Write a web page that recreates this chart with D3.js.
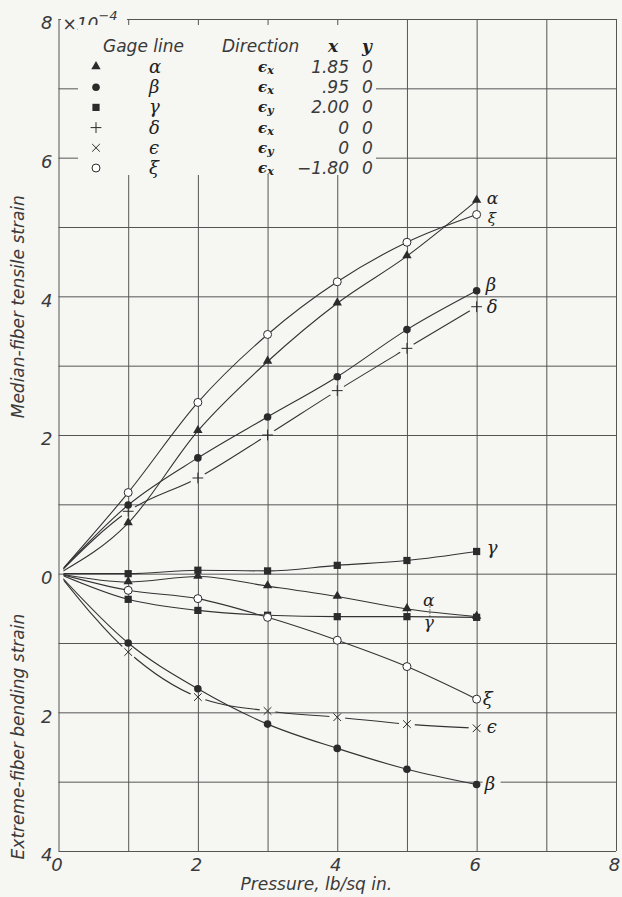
<!DOCTYPE html>
<html>
<head>
<script src="https://cdn.jsdelivr.net/npm/d3@7"></script>
<style>
  *{margin:0;padding:0;}
  body{background:#f6f6f3;}
  .lbl{font-family:"DejaVu Sans",sans-serif;font-style:italic;font-weight:200;fill:#3a3a3a;}
  .grk{font-family:"DejaVu Serif",serif;font-style:italic;fill:#222;}
  .grid line{stroke:#555;stroke-width:1;}
  .grid path{display:none;}
  .curve{fill:none;stroke:#333;stroke-width:1.1;}
</style>
</head>
<body>
<script>
// pressure, lb/sq in.
var pressure = [0, 1, 2, 3, 4, 5, 6];

// median-fiber tensile strain, x10^-4
var alphaT = [0, 0.73, 2.06, 3.06, 3.90, 4.58, 5.38];
var betaT  = [0, 0.99, 1.67, 2.26, 2.84, 3.52, 4.08];
var gammaT = [0, 0.00, 0.05, 0.04, 0.12, 0.19, 0.32];
var deltaT = [0, 0.90, 1.38, 2.00, 2.64, 3.25, 3.85];
var xiT    = [0, 1.17, 2.47, 3.45, 4.21, 4.78, 5.18];

// extreme-fiber bending strain, x10^-4 (plotted downward)
var alphaB = [0, -0.12, -0.04, -0.18, -0.33, -0.51, -0.62];
var betaB  = [0, -1.00, -1.66, -2.17, -2.52, -2.82, -3.04];
var gammaB = [0, -0.37, -0.53, -0.60, -0.62, -0.62, -0.63];
var epsB   = [0, -1.13, -1.78, -1.98, -2.07, -2.17, -2.23];
var xiB    = [0, -0.24, -0.36, -0.63, -0.96, -1.34, -1.81];

// legend table
var gageNames  = ["α", "β", "γ", "δ", "ϵ", "ξ"];
var gageMarks  = ["tri", "dot", "sq", "plus", "times", "ring"];
var directions = ["x", "x", "y", "x", "y", "x"];
var xValues    = ["1.85", ".95", "2.00", "0", "0", "\u22121.80"];
var yValues    = ["0", "0", "0", "0", "0", "0"];

var yTicks = [8, 6, 4, 2, 0, -2, -4];
var xTicks = [0, 2, 4, 6, 8];

var w = 622, h = 897;
var paper = "#f6f6f3";
var ink = "#2b2b2b";

var x = d3.scaleLinear().domain([0, 8]).range([58.5, 616]);
var y = d3.scaleLinear().domain([-4, 8]).range([851, 19]);

var svg = d3.select("body").append("svg")
  .attr("width", w)
  .attr("height", h);

// grid from axes
svg.append("g").attr("class", "grid")
  .attr("transform", "translate(0," + y(-4) + ")")
  .call(d3.axisBottom(x).tickValues(d3.range(0, 9)).tickSize(-(y(-4) - y(8))).tickFormat(""));
svg.append("g").attr("class", "grid")
  .attr("transform", "translate(" + x(0) + ",0)")
  .call(d3.axisLeft(y).tickValues(d3.range(-4, 9)).tickSize(-(x(8) - x(0))).tickFormat(""));

// tick labels
var xa = svg.append("g")
  .attr("transform", "translate(-2," + y(-4) + ")")
  .call(d3.axisBottom(x).tickValues(xTicks).tickSize(0).tickPadding(7));
xa.select(".domain").remove();
xa.selectAll("text").attr("class", "lbl").style("font-size", "18px").attr("fill", null);

var ya = svg.append("g")
  .attr("transform", "translate(" + (x(0) - 6) + ",4)")
  .call(d3.axisLeft(y).tickValues(yTicks).tickSize(0).tickPadding(0)
    .tickFormat(function(d) { return Math.abs(d); }));
ya.select(".domain").remove();
ya.selectAll("text").attr("class", "lbl").style("font-size", "18px").attr("fill", null);

// x10^-4 note over the top border
svg.append("rect").attr("x", x(0) + 2.5).attr("y", 4).attr("width", 66).attr("height", 19).attr("fill", paper);
var note = svg.append("text").attr("class", "lbl").attr("x", x(0) + 4).attr("y", 30).style("font-size", "17px");
note.append("tspan").text("×10");
note.append("tspan").attr("dy", -10).style("font-size", "13px").text("\u22124");

// axis titles
svg.append("text").attr("class", "lbl")
  .attr("transform", "translate(24," + y(3.85) + ") rotate(-90)")
  .attr("text-anchor", "middle").style("font-size", "17px")
  .text("Median-fiber tensile strain");
svg.append("text").attr("class", "lbl")
  .attr("transform", "translate(24," + y(-2.35) + ") rotate(-90)")
  .attr("text-anchor", "middle").style("font-size", "17px")
  .text("Extreme-fiber bending strain");
svg.append("text").attr("class", "lbl")
  .attr("x", x(3.7)).attr("y", 890)
  .attr("text-anchor", "middle").style("font-size", "17px")
  .text("Pressure, lb/sq in.");

// markers
function drawMark(g, kind, cx, cy) {
  if (kind === "tri") {
    g.append("path").attr("d", d3.symbol(d3.symbolTriangle, 38)())
      .attr("transform", "translate(" + cx + "," + (cy - 0.5) + ")").attr("fill", ink);
  } else if (kind === "dot") {
    g.append("circle").attr("cx", cx).attr("cy", cy).attr("r", 3.8).attr("fill", ink);
  } else if (kind === "sq") {
    g.append("path").attr("d", d3.symbol(d3.symbolSquare, 52)())
      .attr("transform", "translate(" + cx + "," + cy + ")").attr("fill", ink);
  } else if (kind === "ring") {
    g.append("circle").attr("cx", cx).attr("cy", cy).attr("r", 4)
      .attr("fill", "#fff").attr("stroke", ink).attr("stroke-width", 1);
  } else if (kind === "plus") {
    g.append("path").attr("d", d3.symbol(d3.symbolPlus, 40)())
      .attr("transform", "translate(" + cx + "," + cy + ")")
      .attr("fill", "none").attr("stroke", ink).attr("stroke-width", 1);
  } else if (kind === "times") {
    g.append("path").attr("d", d3.symbol(d3.symbolTimes, 40)())
      .attr("transform", "translate(" + cx + "," + cy + ")")
      .attr("fill", "none").attr("stroke", ink).attr("stroke-width", 1);
  }
}

var series = [
  {vals: gammaB, mark: "sq", gap: false},
  {vals: alphaB, mark: "tri", gap: false},
  {vals: xiB, mark: "ring", gap: false},
  {vals: betaB, mark: "dot", gap: false},
  {vals: epsB, mark: "times", gap: true},
  {vals: gammaT, mark: "sq", gap: false},
  {vals: alphaT, mark: "tri", gap: false},
  {vals: betaT, mark: "dot", gap: false},
  {vals: deltaT, mark: "plus", gap: true},
  {vals: xiT, mark: "ring", gap: false}
];

var defs = svg.append("defs");
defs.append("clipPath").attr("id", "plotclip")
  .append("rect").attr("x", x(0) + 5).attr("y", 0).attr("width", w).attr("height", h);

// masks that break the dashed-looking lines around their markers
series.forEach(function(s, k) {
  if (!s.gap) return;
  var m = defs.append("mask").attr("id", "gap" + k).attr("maskUnits", "userSpaceOnUse")
    .attr("x", 0).attr("y", 0).attr("width", w).attr("height", h);
  m.append("rect").attr("width", w).attr("height", h).attr("fill", "#fff");
  pressure.forEach(function(p, i) {
    if (i === 0) return;
    m.append("circle").attr("cx", x(p)).attr("cy", y(s.vals[i])).attr("r", 8).attr("fill", "#000");
  });
});

var line = d3.line()
  .x(function(d) { return x(d[0]); })
  .y(function(d) { return y(d[1]); })
  .curve(d3.curveMonotoneX);

var curves = svg.append("g").attr("clip-path", "url(#plotclip)");
series.forEach(function(s, k) {
  var pts = pressure.map(function(p, i) { return [p, s.vals[i]]; });
  var path = curves.append("path").attr("class", "curve").attr("d", line(pts));
  if (s.gap) path.attr("mask", "url(#gap" + k + ")");
});

var marks = svg.append("g");
series.forEach(function(s) {
  pressure.forEach(function(p, i) {
    if (i === 0) return;
    drawMark(marks, s.mark, x(p), y(s.vals[i]));
  });
});

// curve end labels
var last = pressure.length - 1;
var endLabels = [
  {t: "α", v: alphaT[last], dx: 10, dy: 3, size: 17},
  {t: "ξ", v: xiT[last], dx: 11, dy: 8, size: 15},
  {t: "β", v: betaT[last], dx: 9, dy: 0, size: 18},
  {t: "δ", v: deltaT[last], dx: 10, dy: 6, size: 18},
  {t: "γ", v: gammaT[last], dx: 10, dy: 3, size: 18},
  {t: "ξ", v: xiB[last], dx: 6, dy: 6, size: 18},
  {t: "ϵ", v: epsB[last], dx: 10, dy: 5, size: 18},
  {t: "β", v: betaB[last], dx: 8, dy: 6, size: 18, bg: true}
];
var lab = svg.append("g");
endLabels.forEach(function(l) {
  var tx = x(pressure[last]) + l.dx, ty = y(l.v) + l.dy;
  if (l.bg) {
    lab.append("rect").attr("x", tx - 2).attr("y", ty - 14).attr("width", 18).attr("height", 18).attr("fill", paper);
  }
  lab.append("text").attr("class", "grk").attr("x", tx).attr("y", ty)
    .style("font-size", l.size + "px").text(l.t);
});
// alpha / gamma pair sharing the x=6 bending point
lab.append("text").attr("class", "grk").attr("x", x(5.23)).attr("y", y(-0.46))
  .style("font-size", "17px").text("α");
lab.append("text").attr("class", "grk").attr("x", x(5.24)).attr("y", y(-0.79))
  .style("font-size", "17px").text("γ");
lab.append("line").attr("x1", x(5.33)).attr("x2", x(5.33)).attr("y1", y(-0.47)).attr("y2", y(-0.63))
  .attr("stroke", ink).attr("stroke-width", 0.8).attr("stroke-dasharray", "1.5,1.5");

// legend
var lg = svg.append("g");
lg.append("rect").attr("x", 78).attr("y", 25).attr("width", 298).attr("height", 150).attr("fill", paper);
lg.append("text").attr("class", "lbl").attr("x", 103).attr("y", 52).style("font-size", "17px").text("Gage line");
lg.append("text").attr("class", "lbl").attr("x", 222).attr("y", 52).style("font-size", "17px").text("Direction");
lg.append("text").attr("class", "grk").attr("x", 328).attr("y", 52).style("font-size", "17px")
  .style("font-weight", "bold").text("x");
lg.append("text").attr("class", "grk").attr("x", 362).attr("y", 52).style("font-size", "17px")
  .style("font-weight", "bold").text("y");

var rowY = d3.scalePoint().domain(d3.range(gageNames.length)).range([67, 168]);
gageNames.forEach(function(g, i) {
  var cy = rowY(i);
  drawMark(lg, gageMarks[i], 96, cy);
  lg.append("text").attr("class", "grk").attr("x", 149).attr("y", cy + 6).style("font-size", "18px").text(g);
  var dt = lg.append("text").attr("class", "grk").attr("x", 258).attr("y", cy + 5)
    .style("font-size", "15px").style("font-weight", "bold");
  dt.append("tspan").text("ϵ");
  dt.append("tspan").attr("dy", 2).style("font-size", "11px").text(directions[i]);
  lg.append("text").attr("class", "lbl").attr("x", 349).attr("y", cy + 6)
    .attr("text-anchor", "end").style("font-size", "17px").text(xValues[i]);
  lg.append("text").attr("class", "lbl").attr("x", 362).attr("y", cy + 6)
    .style("font-size", "17px").text(yValues[i]);
});
</script>
</body>
</html>
